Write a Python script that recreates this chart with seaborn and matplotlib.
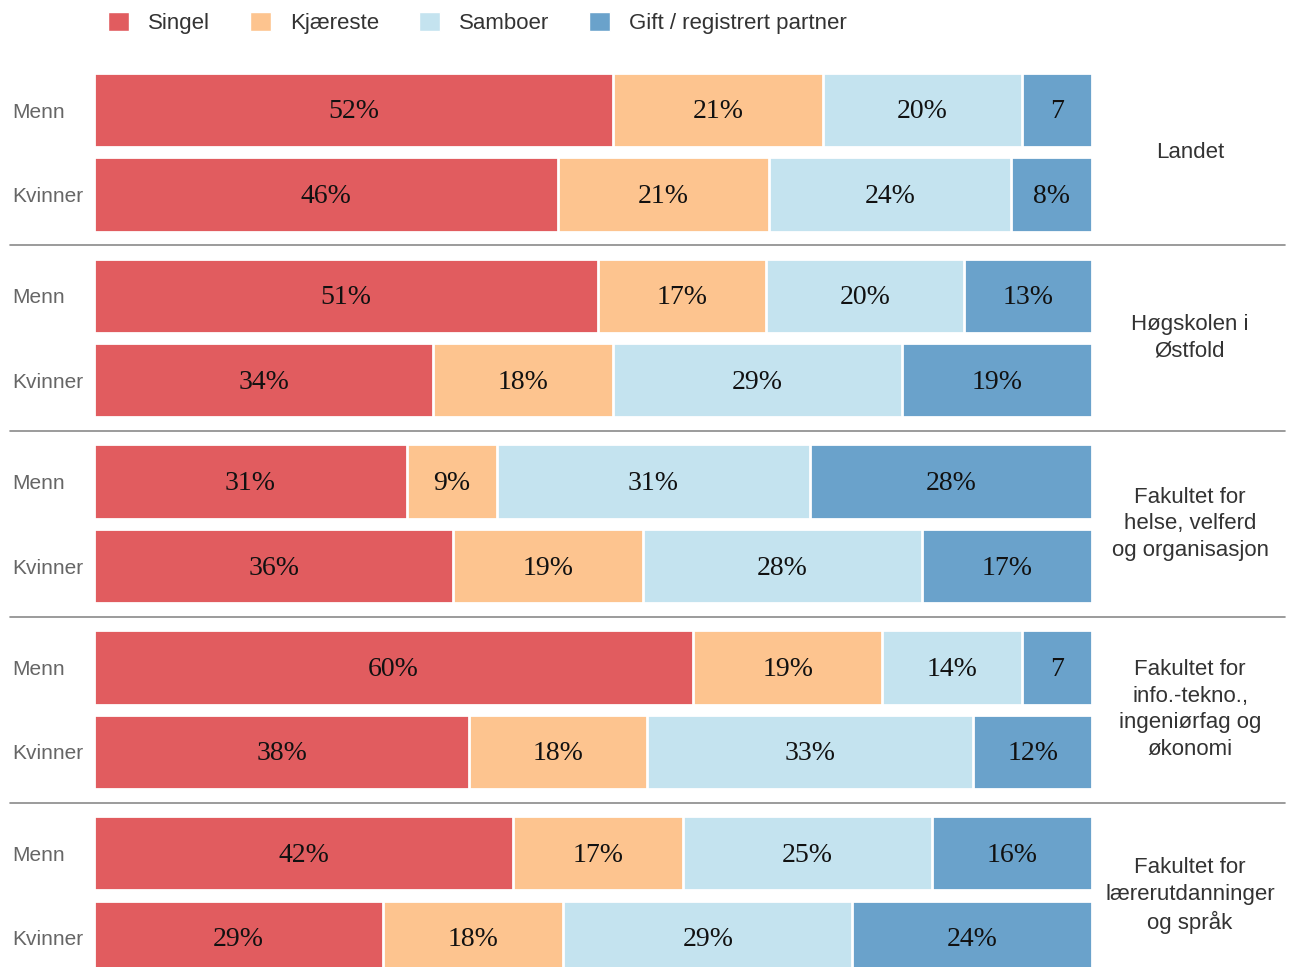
import matplotlib
matplotlib.use("Agg")
import matplotlib.pyplot as plt
from matplotlib.patches import Patch
from matplotlib.lines import Line2D
import seaborn as sns
import pandas as pd
import numpy as np

# data
categories = ["Singel", "Kjæreste", "Samboer", "Gift / registrert partner"]
groups = ["Landet", "Høgskolen i\nØstfold", "Fakultet for\nhelse, velferd\nog organisasjon",
          "Fakultet for\ninfo.-tekno.,\ningeniørfag og\nøkonomi", "Fakultet for\nlærerutdanninger\nog språk"]
sexes = ["Menn", "Kvinner"]

singel   = [52, 46, 51, 34, 31, 36, 60, 38, 42, 29]
kjaereste = [21, 21, 17, 18, 9, 19, 19, 18, 17, 18]
samboer  = [20, 24, 20, 29, 31, 28, 14, 33, 25, 29]
gift     = [7, 8, 13, 19, 28, 17, 7, 12, 16, 24]

colors = ["#E15C5F", "#FDC48F", "#C4E3EF", "#6AA2CB"]

sns.set_theme(style="white")
plt.rcParams['font.family'] = ['Liberation Sans', 'DejaVu Sans']

W, H = 1295, 967
fig = plt.figure(figsize=(W / 100, H / 100), dpi=100)
ax = fig.add_axes([94 / W, 0, (1092 - 94) / W, 1])

# row positions in pixel units (top-down)
ys = []
for g in range(len(groups)):
    for s in range(2):
        ys.append(110 + g * 185.8 + s * 84.5)
ys = np.array(ys)

vals = np.array([singel, kjaereste, samboer, gift], dtype=float)
vals = vals / vals.sum(axis=0) * 100
cum = np.cumsum(vals, axis=0)

df = pd.DataFrame({"y": ys})
for k in range(3, -1, -1):
    df["x"] = cum[k]
    sns.barplot(data=df, x="x", y="y", orient="y", native_scale=True, color=colors[k],
                saturation=1, width=0.88, errorbar=None, edgecolor="white", linewidth=2, ax=ax)

raw = [singel, kjaereste, samboer, gift]
for i, y in enumerate(ys):
    for k in range(4):
        v = raw[k][i]
        lab = f"{v}%" if v >= 8 else f"{v}"
        xc = cum[k][i] - vals[k][i] / 2
        ax.text(xc, y + 2, lab, ha="center", va="center", fontsize=20,
                family=["Liberation Serif", "DejaVu Serif"], color="#111111")

ax.set_xlim(0, 100)
ax.set_ylim(967, 0)
ax.set_xticks([])
ax.set_yticks(ys)
ax.set_yticklabels(sexes * len(groups), ha="left", color="#666666", fontsize=15)
ax.tick_params(axis="y", length=0, pad=59)
ax.set_xlabel("")
ax.set_ylabel("")
sns.despine(ax=ax, left=True, bottom=True)

# group labels and separators
for g, name in enumerate(groups):
    yc = (ys[2 * g] + ys[2 * g + 1]) / 2
    fig.text(1190 / W, 1 - yc / H, name, ha="center", va="center", fontsize=16,
             color="#333333", linespacing=1.35)
    if g > 0:
        ysep = (ys[2 * g - 1] + ys[2 * g]) / 2
        fig.add_artist(Line2D([10 / W, 1285 / W], [1 - ysep / H] * 2, color="#8a8a8a", lw=1.2))

handles = [Patch(facecolor=c, edgecolor="white") for c in colors]
fig.legend(handles, categories, ncol=4, loc="upper left", bbox_to_anchor=(108 / W, 1 - 12 / H),
           frameon=False, fontsize=16, handlelength=0.95, handleheight=0.95, handletextpad=0.85,
           columnspacing=1.8, borderpad=0, borderaxespad=0, labelcolor="#333333")

fig.savefig("out.png", dpi=100)
